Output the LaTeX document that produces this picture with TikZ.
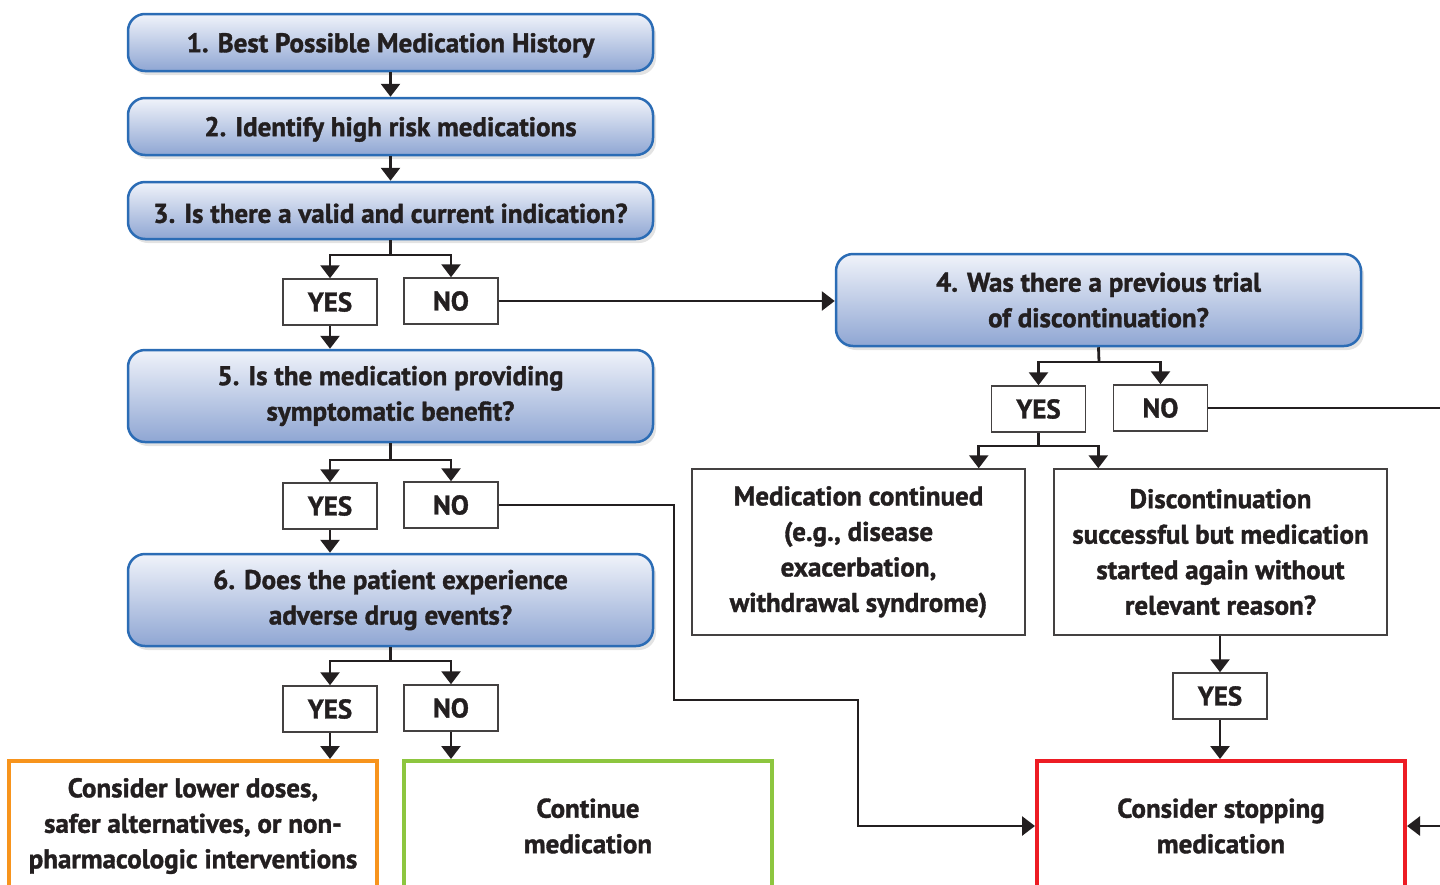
\documentclass[tikz,border=0pt]{standalone}
\usepackage{fontspec}
\setmainfont{PT Sans}[BoldFeatures={FakeBold=1.3}]
\usetikzlibrary{positioning}
\usetikzlibrary{arrows.meta, shadows}

\definecolor{stepblue}{HTML}{2B6CB5}
\definecolor{steptop}{HTML}{F0F3FA}
\definecolor{stepbot}{HTML}{8FA6D3}
\definecolor{ink}{HTML}{231F20}
\definecolor{endorange}{HTML}{F7941D}
\definecolor{endgreen}{HTML}{8DC63F}
\definecolor{endred}{HTML}{ED1C24}

\tikzset{
  flowfont/.style={font=\fontsize{27}{35.5}\selectfont\bfseries, text=ink},
  stepbox/.style={flowfont, rectangle, rounded corners=17pt, draw=stepblue, line width=2.5pt,
    top color=steptop, bottom color=stepbot, minimum width=525pt, align=center, inner sep=0pt,
    drop shadow={opacity=0.22, shadow xshift=3pt, shadow yshift=-4pt},
    execute at begin node={\rule{0pt}{25pt}}},
  tallstep/.style={stepbox, minimum height=92pt, execute at begin node={\rule{0pt}{30pt}}},
  answer/.style={flowfont, rectangle, draw=ink!85, line width=1.5pt, fill=white,
    minimum width=94pt, minimum height=46pt, inner sep=0pt},
  outcome/.style={flowfont, rectangle, draw=ink!85, line width=1.5pt, fill=white,
    minimum width=333pt, minimum height=166pt, align=center, inner sep=0pt,
    execute at begin node={\rule{0pt}{33pt}}},
  endbox/.style={flowfont, rectangle, line width=4pt, fill=white,
    minimum width=368pt, minimum height=130pt, align=center, inner sep=0pt},
  wire/.style={line width=2.8pt, draw=ink},
  arr/.style={wire, -{Triangle[width=19pt,length=13pt]}}
}

\begin{document}
\begin{tikzpicture}[x=1pt,y=-1pt]
\useasboundingbox (0,0) rectangle (1440,884);
\clip (0,0) rectangle (1440,884);

% left column of steps
\node[stepbox, minimum height=57pt] (b1) at (390.5,42.5) {1. Best Possible Medication History};
\node[stepbox, minimum height=57pt] (b2) at (390.5,126.5) {2. Identify high risk medications};
\node[stepbox, minimum height=57pt] (b3) at (390.5,210.5) {3. Is there a valid and current indication?};
\node[tallstep] (b5) at (390.5,396) {5. Is the medication providing\\symptomatic benefit?};
\node[tallstep] (b6) at (390.5,600) {6. Does the patient experience\\adverse drug events?};

\node[answer] (y3) at (330,302) {YES};
\node[answer] (n3) at (451,301) {NO};
\node[answer] (y5) at (330,506) {YES};
\node[answer] (n5) at (451,505) {NO};
\node[answer] (y6) at (330,709) {YES};
\node[answer] (n6) at (451,708) {NO};

% right column
\node[tallstep] (b4) at (1098.5,300) {4. Was there a previous trial\\of discontinuation?};
\node[answer] (y4) at (1038.5,409) {YES};
\node[answer] (n4) at (1160.5,408) {NO};
\node[outcome] (contd) at (858.5,552) {Medication continued\\(e.g., disease\\exacerbation,\\withdrawal syndrome)};
\node[outcome] (discont) at (1220.5,552) {Discontinuation\\successful but medication\\started again without\\relevant reason?};
\node[answer] (y7) at (1220,696) {YES};

% end points
\node[endbox, draw=endorange] (lower) at (193,826) {Consider lower doses,\\safer alternatives, or non-\\pharmacologic interventions};
\node[endbox, draw=endgreen] (cont) at (588,826) {Continue\\medication};
\node[endbox, draw=endred] (stop) at (1221,826) {Consider stopping\\medication};

\coordinate (f3) at (390.5,255);
\coordinate (f4) at (1099,362);
\coordinate (f5) at (390.5,460);
\coordinate (f6) at (390.5,661);
\coordinate (f7) at (1038.5,446);
\coordinate (k1) at (674,700);
\coordinate (k2) at (858,700);
\coordinate (out4) at (1440,408);
\coordinate (in7) at (1440,826);

\draw[arr] (b1) -- (b2);
\draw[arr] (b2) -- (b3);
\draw[wire] (b3.south) -- (f3);
\draw[arr] (f3) -| (y3.north);
\draw[arr] (f3) -| (n3.north);
\draw[arr] (n3.east) -- (n3.east -| b4.west);
\draw[arr] (y3.south) -- (y3.south |- b5.north);
\draw[wire] (b5.south) -- (f5);
\draw[arr] (f5) -| (y5.north);
\draw[arr] (f5) -| (n5.north);
\draw[arr] (y5.south) -- (y5.south |- b6.north);
\draw[wire] (b6.south) -- (f6);
\draw[arr] (f6) -| (y6.north);
\draw[arr] (f6) -| (n6.north);
\draw[arr] (y6.south) -- (y6.south |- lower.north);
\draw[arr] (n6.south) -- (n6.south |- cont.north);
\draw[arr] (n5.east) -| (k1) -- (k2) |- (stop.west);

\draw[wire] (b4.south) -- (f4);
\draw[arr] (f4) -| (y4.north);
\draw[arr] (f4) -| (n4.north);
\draw[wire] (n4.east) -- (out4);
\draw[wire] (y4.south) -- (f7);
\draw[arr] (f7) -| ([xshift=-47pt]contd.north east);
\draw[arr] (f7) -| ([xshift=45pt]discont.north west);
\draw[arr] (discont.south -| y7) -- (y7.north);
\draw[arr] (y7.south) -- (y7.south |- stop.north);
\draw[arr] (in7) -- (stop.east);

\end{tikzpicture}
\end{document}
